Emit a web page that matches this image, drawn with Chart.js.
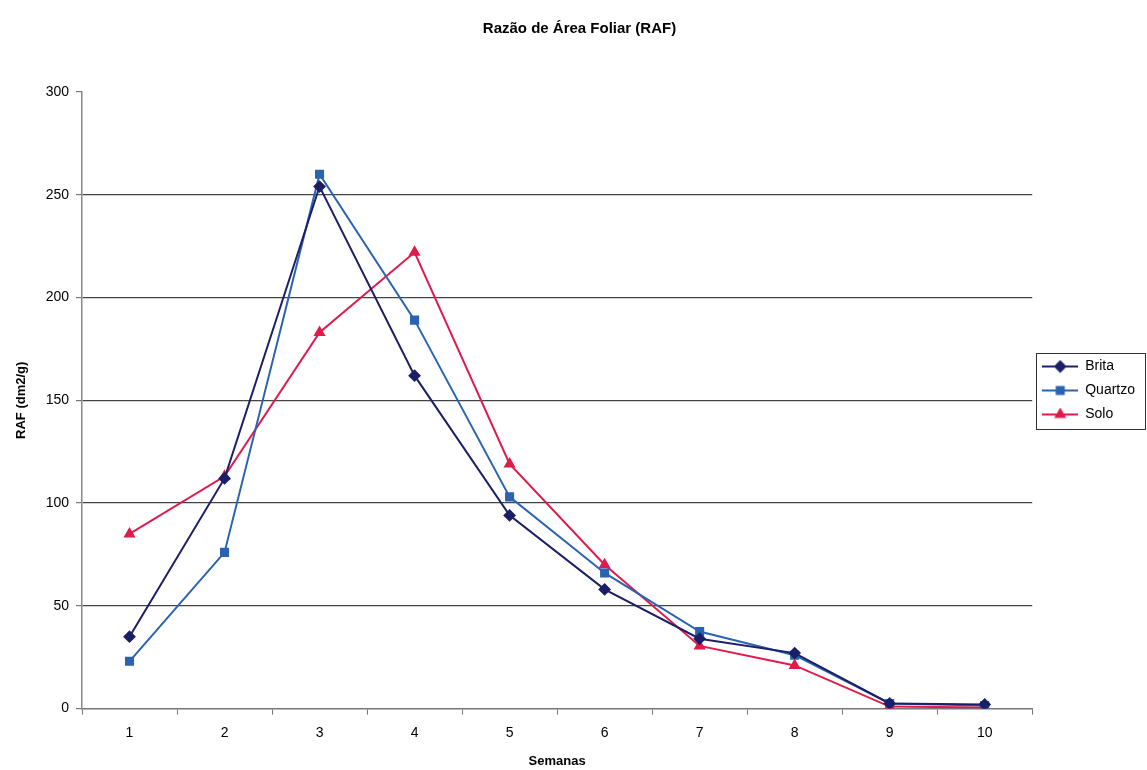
<!DOCTYPE html>
<html>
<head>
<meta charset="utf-8">
<script src="https://cdn.jsdelivr.net/npm/chart.js@4"></script>
<style>
  html, body { margin: 0; padding: 0; background: #fff; }
  #wrap { width: 1147px; height: 770px; }
</style>
</head>
<body>
<div id="wrap"><canvas id="chartRaf"></canvas></div>
<script>
const _ = (id) => document.getElementById(id)

const weeks = ['1', '2', '3', '4', '5', '6', '7', '8', '9', '10']
const brita = [35, 112, 254, 162, 94, 58, 34, 27, 2.5, 2]
const quartzo = [23, 76, 260, 189, 103, 66, 37.5, 26, 2.5, 1.5]
const solo = [85, 113, 183, 222, 119, 70, 30.5, 21, 1, 0.5]

const colBrita = '#1b1f66'
const colQuartzo = '#2a63b0'
const colSolo = '#e01b4c'

// little line+marker icon, like excel legend
function legendIcon(color, style) {
  const c = document.createElement('canvas')
  c.width = 36
  c.height = 14
  const ctx = c.getContext('2d')
  ctx.strokeStyle = color
  ctx.fillStyle = color
  ctx.lineWidth = 2
  ctx.beginPath()
  ctx.moveTo(0, 7)
  ctx.lineTo(36, 7)
  ctx.stroke()
  Chart.helpers.drawPoint(ctx, { pointStyle: style, radius: 5, rotation: 0, borderWidth: 1 }, 18, 7)
  ctx.fill()
  return c
}

// box around the legend items only
const legendBox = {
  id: 'legendBox',
  afterDraw(chart) {
    const boxes = chart.legend.legendHitBoxes
    if (!boxes || !boxes.length) return
    const left = Math.min(...boxes.map((b) => b.left)) - 6
    const top = Math.min(...boxes.map((b) => b.top)) - 7
    const right = Math.max(...boxes.map((b) => b.left + b.width)) + 10
    const bottom = Math.max(...boxes.map((b) => b.top + b.height)) + 7
    const ctx = chart.ctx
    ctx.save()
    ctx.strokeStyle = '#333'
    ctx.lineWidth = 1
    ctx.strokeRect(Math.round(left) + 0.5, Math.round(top) + 0.5, Math.round(right - left), Math.round(bottom - top))
    ctx.restore()
  },
}

const fontFam = '"Liberation Sans", Arial, sans-serif'

new Chart(_('chartRaf'), {
  type: 'line',
  data: {
    labels: weeks,
    datasets: [
      {
        label: 'Brita',
        data: brita,
        borderColor: colBrita,
        backgroundColor: colBrita,
        borderWidth: 2,
        pointStyle: 'rectRot',
        pointRadius: 5,
        tension: 0,
      },
      {
        label: 'Quartzo',
        data: quartzo,
        borderColor: colQuartzo,
        backgroundColor: colQuartzo,
        borderWidth: 2,
        pointStyle: 'rect',
        pointRadius: 5,
        tension: 0,
      },
      {
        label: 'Solo',
        data: solo,
        borderColor: colSolo,
        backgroundColor: colSolo,
        borderWidth: 2,
        pointStyle: 'triangle',
        pointRadius: 5,
        tension: 0,
      },
    ],
  },
  options: {
    responsive: true,
    maintainAspectRatio: false,
    animation: false,
    layout: { padding: { top: 12, right: 2, bottom: 1, left: 14 } },
    plugins: {
      title: {
        display: true,
        text: 'Razão de Área Foliar (RAF)',
        color: '#000',
        font: { family: fontFam, size: 15, weight: 'bold' },
        padding: { top: 8, bottom: 54 },
      },
      legend: {
        position: 'right',
        labels: {
          usePointStyle: true,
          pointStyleWidth: 36,
          boxHeight: 14,
          color: '#000',
          font: { family: fontFam, size: 14 },
          padding: 10,
          generateLabels(chart) {
            const icons = [
              legendIcon(colBrita, 'rectRot'),
              legendIcon(colQuartzo, 'rect'),
              legendIcon(colSolo, 'triangle'),
            ]
            return chart.data.datasets.map((ds, i) => ({
              text: ds.label,
              pointStyle: icons[i],
              fontColor: '#000',
              datasetIndex: i,
              hidden: false,
              lineWidth: 0,
            }))
          },
        },
      },
      tooltip: { enabled: false },
    },
    scales: {
      x: {
        offset: true,
        grid: {
          offset: true,
          drawOnChartArea: false,
          tickLength: 6,
          tickColor: '#777',
        },
        border: { color: '#777', width: 1.5 },
        ticks: {
          color: '#000',
          font: { family: fontFam, size: 14 },
          padding: 10,
        },
        title: {
          display: true,
          text: 'Semanas',
          color: '#000',
          font: { family: fontFam, size: 13, weight: 'bold' },
          padding: { top: 2, bottom: 0 },
        },
      },
      y: {
        min: 0,
        max: 300,
        afterFit(scale) {
          scale.width = 68
        },
        ticks: {
          stepSize: 50,
          color: '#000',
          font: { family: fontFam, size: 14 },
          padding: 7,
        },
        grid: {
          color: (c) => (c.tick && (c.tick.value === 300 || c.tick.value === 0) ? 'rgba(0,0,0,0)' : '#444'),
          tickColor: '#777',
          tickLength: 6,
          lineWidth: 1.2,
        },
        border: { color: '#888', width: 1.5 },
        title: {
          display: true,
          text: 'RAF (dm2/g)',
          color: '#000',
          font: { family: fontFam, size: 13, weight: 'bold' },
          padding: { top: 0, bottom: 0 },
        },
      },
    },
  },
  plugins: [legendBox],
})
</script>
</body>
</html>
